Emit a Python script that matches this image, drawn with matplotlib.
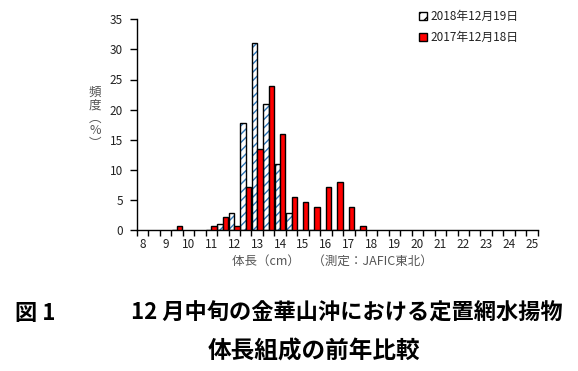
import matplotlib.pyplot as plt
import numpy as np

plt.rcParams['font.family'] = ['Noto Sans CJK JP', 'DejaVu Sans']

# length classes (cm), 0.5 cm bins
lengths = [9.5, 11.0, 11.5, 12.0, 12.5, 13.0, 13.5, 14.0, 14.5, 15.0, 15.5, 16.0, 16.5, 17.0, 17.5]
freq_2018 = [0, 0, 1.0, 2.9, 17.8, 31.0, 20.9, 10.9, 2.9, 0, 0, 0, 0, 0, 0]
freq_2017 = [0.7, 0.7, 2.2, 0.7, 7.1, 13.5, 24.0, 16.0, 5.4, 4.7, 3.9, 7.2, 7.9, 3.9, 0.7]
label_2018 = '2018年12月19日'
label_2017 = '2017年12月18日'

fig = plt.figure(figsize=(5.78, 3.71), dpi=100)
ax = fig.add_axes([137 / 578, 1 - 230 / 371, 400.7 / 578, 210.7 / 371])

x = np.array(lengths)
w = 0.235
# 2018: white with blue hatch, black outline
ax.bar(x - w / 2, freq_2018, width=w, color='white', edgecolor='#2E75B6',
       hatch='////', linewidth=0, zorder=2)
ax.bar(x - w / 2, freq_2018, width=w, fill=False, edgecolor='black',
       linewidth=1.0, zorder=3)
ax.bar(x + w / 2, freq_2017, width=w, color='#FF0000', edgecolor='black',
       linewidth=1.0, zorder=3)

ax.set_xlim(7.75, 25.25)
ax.set_ylim(0, 35)
ax.set_xticks(np.arange(7.75, 25.3, 0.5))
ax.set_xticklabels([])
ax.set_xticks(np.arange(8, 26, 1), minor=True)
ax.set_xticklabels([str(v) for v in range(8, 26)], minor=True)
ax.tick_params(axis='x', which='major', direction='out', length=4, width=1)
ax.tick_params(axis='x', which='minor', length=0, labelsize=8.5,
               labelcolor='#222222', pad=6)
ax.set_yticks(np.arange(0, 36, 5))
ax.tick_params(axis='y', direction='out', length=5, width=1, labelsize=8.5,
               labelcolor='#222222', pad=5)
for s in ['top', 'right']:
    ax.spines[s].set_visible(False)
ax.spines['left'].set_linewidth(1)
ax.spines['bottom'].set_linewidth(1)

fig.text(332 / 578, 1 - 261 / 371, '体長（cm）　（測定：JAFIC東北）',
         ha='center', va='center', fontsize=9, color='#555555')
fig.text(95 / 578, 1 - 118 / 371, '頻\n度\n︵\n%\n︶', ha='center', va='center',
         fontsize=9, color='#555555', linespacing=1.0)

# legend
fig.patches.append(plt.Rectangle((419 / 578, 1 - 20 / 371), 8 / 578, 8 / 371,
                                 transform=fig.transFigure, facecolor='white',
                                 edgecolor='black', hatch='///', linewidth=1))
fig.patches.append(plt.Rectangle((419 / 578, 1 - 41 / 371), 8 / 578, 8 / 371,
                                 transform=fig.transFigure, facecolor='#FF0000',
                                 edgecolor='black', linewidth=1))
fig.text(430 / 578, 1 - 16 / 371, label_2018, ha='left', va='center',
         fontsize=8.5, color='#222222')
fig.text(430 / 578, 1 - 37 / 371, label_2017, ha='left', va='center',
         fontsize=8.5, color='#222222')

# caption
fig.text(15 / 578, 1 - 313 / 371, '図 1', ha='left', va='center',
         fontsize=16, fontweight='bold')
fig.text(563 / 578, 1 - 313 / 371, '12 月中旬の金華山沖における定置網水揚物',
         ha='right', va='center', fontsize=16, fontweight='bold')
fig.text(314 / 578, 1 - 352 / 371, '体長組成の前年比較', ha='center',
         va='center', fontsize=17, fontweight='bold')

fig.savefig('out.png', dpi=100)
